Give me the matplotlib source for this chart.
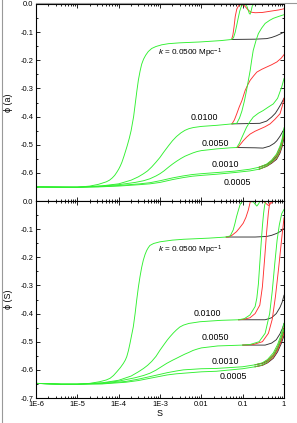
import numpy as np
import matplotlib
matplotlib.use("Agg")
import matplotlib.pyplot as plt
from matplotlib.lines import Line2D
from matplotlib.ticker import LogLocator, MultipleLocator, FixedFormatter, FixedLocator

plt.rcParams['font.family'] = ['Liberation Sans', 'DejaVu Sans']
plt.rcParams['axes.unicode_minus'] = False
plt.rcParams['mathtext.fontset'] = 'custom'
plt.rcParams['mathtext.rm'] = 'Liberation Sans'
plt.rcParams['mathtext.it'] = 'Liberation Sans:italic'

# ---- data: (S, phi) pairs ----
k_labels = ["0.0500", "0.0100", "0.0050", "0.0010", "0.0005"]

# panel (a): phi(a)
a_k0500_early = [(1e-6, -0.650), (5e-6, -0.652), (1e-5, -0.651), (2e-5, -0.647), (3.2e-5, -0.641),
                 (5e-5, -0.632), (6e-5, -0.626), (7e-5, -0.618), (8e-5, -0.609), (9e-5, -0.598),
                 (1e-4, -0.587), (1.1e-4, -0.575), (1.2e-4, -0.562), (1.35e-4, -0.540), (1.6e-4, -0.505),
                 (1.8e-4, -0.478), (2e-4, -0.450), (2.3e-4, -0.400), (2.5e-4, -0.358), (2.75e-4, -0.310),
                 (3e-4, -0.270), (3.3e-4, -0.238), (3.6e-4, -0.214), (4e-4, -0.196), (4.5e-4, -0.182),
                 (5.2e-4, -0.169), (6.3e-4, -0.158), (8e-4, -0.151), (1.1e-3, -0.145), (1.6e-3, -0.141),
                 (3e-3, -0.138), (9e-3, -0.135), (3e-2, -0.130), (5.4e-2, -0.126)]
a_k0500_green = [(5.4e-2, -0.126), (6e-2, -0.120), (6.6e-2, -0.100), (7.2e-2, -0.075), (7.8e-2, -0.050),
                 (8.5e-2, -0.025), (9.3e-2, -0.008), (0.10, -0.002), (0.11, -0.001), (0.125, -0.006),
                 (0.135, -0.020), (0.145, -0.034), (0.152, -0.036), (0.16, -0.025), (0.17, -0.008),
                 (0.18, -0.002), (0.25, -0.001), (1.0, -0.001)]
a_k0500_red = [(5.4e-2, -0.126), (5.8e-2, -0.110), (6.2e-2, -0.080), (6.6e-2, -0.045), (7.2e-2, -0.018),
               (8e-2, -0.006), (9e-2, -0.002), (0.105, -0.003), (0.12, -0.012), (0.137, -0.022),
               (0.16, -0.029), (0.2, -0.031), (0.3, -0.030), (0.5, -0.025), (0.75, -0.021), (1.0, -0.017)]
a_k0500_black = [(5.4e-2, -0.126), (0.2, -0.125), (0.38, -0.123), (0.5, -0.119), (0.65, -0.113),
                 (0.8, -0.107), (1.0, -0.100)]

a_k0100_early = [(1e-6, -0.650), (1e-5, -0.651), (4e-5, -0.646), (1e-4, -0.639), (2e-4, -0.626),
                 (3e-4, -0.614), (4e-4, -0.603), (5e-4, -0.593), (6.3e-4, -0.579), (8e-4, -0.562),
                 (1e-3, -0.545), (1.25e-3, -0.525), (1.6e-3, -0.504), (2e-3, -0.486), (2.5e-3, -0.471),
                 (3.2e-3, -0.458), (4e-3, -0.449), (5e-3, -0.443), (6.4e-3, -0.439), (1e-2, -0.435),
                 (2.4e-2, -0.431), (5.5e-2, -0.426)]
a_k0100_green = [(5.5e-2, -0.426), (7.2e-2, -0.424), (8.4e-2, -0.405), (9.6e-2, -0.380), (0.11, -0.345),
                 (0.124, -0.307), (0.138, -0.270), (0.152, -0.236), (0.165, -0.200), (0.18, -0.165),
                 (0.21, -0.130), (0.24, -0.105), (0.29, -0.085), (0.35, -0.069), (0.45, -0.058),
                 (0.55, -0.051), (0.75, -0.044), (1.0, -0.038)]
a_k0100_red = [(5.5e-2, -0.426), (6.3e-2, -0.412), (7.2e-2, -0.390), (8.3e-2, -0.365), (9.6e-2, -0.343),
               (0.115, -0.307), (0.135, -0.285), (0.152, -0.271), (0.185, -0.255), (0.22, -0.242),
               (0.29, -0.232), (0.38, -0.224), (0.5, -0.216), (0.67, -0.206), (0.85, -0.193), (1.0, -0.180)]
a_k0100_black = [(5.5e-2, -0.426), (0.26, -0.424), (0.38, -0.416), (0.5, -0.402), (0.62, -0.388),
                 (0.72, -0.373), (0.85, -0.355), (1.0, -0.335)]

a_k0050_early = [(1e-6, -0.650), (1e-5, -0.651), (3.2e-5, -0.648), (1e-4, -0.642), (2.5e-4, -0.634),
                 (4e-4, -0.628), (5.7e-4, -0.621), (8e-4, -0.611), (1e-3, -0.603), (1.25e-3, -0.593),
                 (1.6e-3, -0.580), (2e-3, -0.569), (2.5e-3, -0.559), (3.2e-3, -0.549), (4e-3, -0.541),
                 (5e-3, -0.535), (6.3e-3, -0.529), (8e-3, -0.524), (1e-2, -0.521), (2.3e-2, -0.515),
                 (5e-2, -0.511), (7.2e-2, -0.510)]
a_k0050_green = [(7.2e-2, -0.510), (8.4e-2, -0.494), (9.6e-2, -0.474), (0.11, -0.455), (0.124, -0.438),
                 (0.15, -0.418), (0.18, -0.402), (0.24, -0.388), (0.31, -0.379), (0.42, -0.366),
                 (0.55, -0.355), (0.7, -0.335), (0.88, -0.295), (1.0, -0.265)]
a_k0050_red = [(7.2e-2, -0.510), (7.8e-2, -0.508), (0.09, -0.497), (0.103, -0.486), (0.125, -0.473),
               (0.152, -0.462), (0.2, -0.452), (0.265, -0.444), (0.35, -0.436), (0.46, -0.426),
               (0.6, -0.410), (0.8, -0.390), (0.92, -0.360), (1.0, -0.335)]
a_k0050_black = [(7.2e-2, -0.510), (0.2, -0.511), (0.31, -0.512), (0.45, -0.505), (0.58, -0.495),
                 (0.67, -0.486), (0.8, -0.470), (1.0, -0.445)]

a_k0010_early = [(1e-6, -0.650), (1e-5, -0.651), (3.2e-5, -0.649), (1e-4, -0.645), (3.2e-4, -0.639),
                 (5.7e-4, -0.635), (1e-3, -0.628), (2e-3, -0.618), (3.6e-3, -0.611), (6e-3, -0.606),
                 (1e-2, -0.603), (2.3e-2, -0.599), (6.3e-2, -0.594), (0.15, -0.587), (0.25, -0.580)]
a_k0010_green = [(0.25, -0.580), (0.38, -0.569), (0.5, -0.555), (0.66, -0.533), (0.8, -0.505),
                 (0.9, -0.480), (1.0, -0.440)]
a_k0010_red = [(0.25, -0.580), (0.38, -0.570), (0.5, -0.557), (0.66, -0.537), (0.8, -0.510),
               (0.9, -0.487), (1.0, -0.452)]
a_k0010_black = [(0.25, -0.580), (0.38, -0.571), (0.5, -0.560), (0.66, -0.542), (0.8, -0.518),
                 (0.9, -0.495), (1.0, -0.462)]

a_k0005_early = [(1e-6, -0.650), (1e-5, -0.651), (3.2e-5, -0.650), (1e-4, -0.647), (3.2e-4, -0.642),
                 (5.7e-4, -0.639), (1e-3, -0.634), (2e-3, -0.624), (3.6e-3, -0.617), (6e-3, -0.612),
                 (1e-2, -0.609), (2.3e-2, -0.605), (6.3e-2, -0.599), (0.15, -0.593), (0.25, -0.587)]
a_k0005_green = [(0.25, -0.587), (0.38, -0.575), (0.5, -0.562), (0.66, -0.545), (0.8, -0.520),
                 (0.9, -0.495), (1.0, -0.455)]
a_k0005_red = [(0.25, -0.587), (0.38, -0.576), (0.5, -0.564), (0.66, -0.548), (0.8, -0.525),
               (0.9, -0.500), (1.0, -0.465)]
a_k0005_black = [(0.25, -0.587), (0.38, -0.577), (0.5, -0.566), (0.66, -0.552), (0.8, -0.530),
                 (0.9, -0.507), (1.0, -0.475)]

# panel (S): phi(S)
s_k0500_early = [(1e-6, -0.648), (4e-6, -0.651), (1e-5, -0.651), (2e-5, -0.648), (3.5e-5, -0.642),
                 (5e-5, -0.636), (6.2e-5, -0.630), (7.5e-5, -0.620), (9e-5, -0.607), (1.1e-4, -0.592),
                 (1.3e-4, -0.577), (1.45e-4, -0.565), (1.57e-4, -0.553), (1.72e-4, -0.532), (1.88e-4, -0.506),
                 (2.05e-4, -0.478), (2.26e-4, -0.447), (2.5e-4, -0.400), (2.73e-4, -0.352), (3e-4, -0.306),
                 (3.28e-4, -0.269), (3.6e-4, -0.236), (3.95e-4, -0.210), (4.35e-4, -0.190),
                 (4.76e-4, -0.176), (5.2e-4, -0.166), (5.7e-4, -0.158), (7e-4, -0.151), (1e-3, -0.145),
                 (2e-3, -0.139), (3.7e-3, -0.136), (1.5e-2, -0.132), (4e-2, -0.128)]
s_k0500_green = [(4e-2, -0.128), (5e-2, -0.124), (5.9e-2, -0.103), (6.5e-2, -0.080), (7.1e-2, -0.056),
                 (7.8e-2, -0.035), (8.6e-2, -0.014), (9.5e-2, -0.003), (0.12, -0.001), (0.18, -0.003),
                 (0.2, -0.011), (0.22, -0.018), (0.24, -0.011), (0.26, -0.002), (1.0, -0.001)]
s_k0500_red = [(4e-2, -0.128), (4.5e-2, -0.128), (5.5e-2, -0.122), (7.1e-2, -0.109), (8.5e-2, -0.095),
               (0.103, -0.079), (0.12, -0.058), (0.137, -0.032), (0.152, -0.004), (0.17, -0.001),
               (0.32, -0.002), (0.37, -0.009), (0.42, -0.016), (0.48, -0.009), (0.55, -0.001), (1.0, -0.001)]
s_k0500_black = [(4e-2, -0.128), (0.2, -0.128), (0.38, -0.126), (0.5, -0.122), (0.67, -0.115),
                 (0.82, -0.108), (1.0, -0.098)]

s_k0100_early = [(1e-6, -0.648), (4e-6, -0.651), (1e-5, -0.651), (4e-5, -0.646), (1e-4, -0.637),
                 (2e-4, -0.622), (3e-4, -0.607), (4e-4, -0.595), (5e-4, -0.584), (6.3e-4, -0.570),
                 (8e-4, -0.552), (1e-3, -0.530), (1.25e-3, -0.510), (1.5e-3, -0.494), (1.75e-3, -0.482),
                 (2.1e-3, -0.469), (2.5e-3, -0.458), (3e-3, -0.448), (3.7e-3, -0.441), (5e-3, -0.435),
                 (9.3e-3, -0.429), (3e-2, -0.424), (8e-2, -0.422)]
s_k0100_green = [(8e-2, -0.422), (0.11, -0.418), (0.15, -0.405), (0.2, -0.375), (0.22, -0.345),
                 (0.24, -0.295), (0.26, -0.220), (0.28, -0.150), (0.3, -0.090), (0.32, -0.045),
                 (0.34, -0.015), (0.36, -0.002), (1.0, -0.001)]
s_k0100_red = [(8e-2, -0.422), (0.1, -0.421), (0.15, -0.415), (0.2, -0.400), (0.26, -0.370),
               (0.3, -0.305), (0.34, -0.205), (0.38, -0.110), (0.42, -0.040), (0.45, -0.008),
               (0.48, -0.001), (1.0, -0.001)]
s_k0100_black = [(8e-2, -0.422), (0.35, -0.422), (0.5, -0.415), (0.65, -0.400), (0.8, -0.378),
                 (0.9, -0.360), (1.0, -0.335)]

s_k0050_early = [(1e-6, -0.648), (4e-6, -0.651), (1e-5, -0.651), (4e-5, -0.647), (1e-4, -0.640),
                 (2.5e-4, -0.628), (4e-4, -0.620), (5.7e-4, -0.612), (8e-4, -0.601), (1e-3, -0.592),
                 (1.45e-3, -0.577), (2e-3, -0.566), (2.5e-3, -0.559), (3.2e-3, -0.551), (4e-3, -0.544),
                 (5e-3, -0.538), (6.3e-3, -0.531), (8e-3, -0.526), (1e-2, -0.522), (2.5e-2, -0.515),
                 (0.1, -0.512)]
s_k0050_green = [(0.1, -0.512), (0.15, -0.510), (0.25, -0.500), (0.35, -0.470), (0.45, -0.400),
                 (0.52, -0.320), (0.6, -0.220), (0.68, -0.140), (0.77, -0.085), (0.88, -0.045),
                 (1.0, -0.030)]
s_k0050_red = [(0.1, -0.512), (0.18, -0.510), (0.3, -0.500), (0.42, -0.470), (0.52, -0.420),
               (0.62, -0.340), (0.74, -0.240), (0.87, -0.140), (1.0, -0.060)]
s_k0050_black = [(0.1, -0.512), (0.35, -0.512), (0.5, -0.505), (0.65, -0.493), (0.8, -0.472),
                 (0.92, -0.452), (1.0, -0.435)]

s_k0010_early = [(1e-6, -0.648), (4e-6, -0.651), (1e-5, -0.651), (4e-5, -0.649), (1.5e-4, -0.641),
                 (3e-4, -0.633), (5.7e-4, -0.624), (1e-3, -0.616), (1.5e-3, -0.610), (2.5e-3, -0.604),
                 (3.7e-3, -0.600), (1e-2, -0.596), (2.3e-2, -0.595), (0.1, -0.589), (0.2, -0.582)]
s_k0010_green = [(0.2, -0.582), (0.3, -0.575), (0.4, -0.563), (0.55, -0.540), (0.7, -0.510),
                 (0.85, -0.475), (1.0, -0.435)]
s_k0010_red = [(0.2, -0.582), (0.3, -0.576), (0.4, -0.566), (0.55, -0.546), (0.7, -0.518),
               (0.85, -0.485), (1.0, -0.450)]
s_k0010_black = [(0.2, -0.582), (0.3, -0.577), (0.4, -0.568), (0.55, -0.550), (0.7, -0.525),
                 (0.85, -0.495), (1.0, -0.462)]

s_k0005_early = [(1e-6, -0.648), (4e-6, -0.651), (1e-5, -0.651), (4e-5, -0.650), (1.5e-4, -0.644),
                 (3e-4, -0.638), (5.7e-4, -0.630), (1e-3, -0.623), (1.5e-3, -0.618), (2.5e-3, -0.614),
                 (3.7e-3, -0.612), (1e-2, -0.607), (2.3e-2, -0.605), (0.1, -0.596), (0.2, -0.589)]
s_k0005_green = [(0.2, -0.589), (0.3, -0.582), (0.4, -0.571), (0.55, -0.550), (0.7, -0.522),
                 (0.85, -0.490), (1.0, -0.455)]
s_k0005_red = [(0.2, -0.589), (0.3, -0.583), (0.4, -0.573), (0.55, -0.555), (0.7, -0.530),
               (0.85, -0.500), (1.0, -0.468)]
s_k0005_black = [(0.2, -0.589), (0.3, -0.584), (0.4, -0.575), (0.55, -0.559), (0.7, -0.536),
                 (0.85, -0.508), (1.0, -0.478)]

# label anchors (S, phi)
a_label_pos = [(9.0e-4, -0.177), (1.16e-2, -0.405), (2.2e-2, -0.495), (3.9e-2, -0.569), (7.4e-2, -0.636)]
s_label_pos = [(9.0e-4, -0.174), (1.41e-2, -0.399), (2.23e-2, -0.484), (3.9e-2, -0.571), (6.1e-2, -0.624)]

a_curves = [
    (a_k0500_early, a_k0500_black, a_k0500_red, a_k0500_green),
    (a_k0100_early, a_k0100_black, a_k0100_red, a_k0100_green),
    (a_k0050_early, a_k0050_black, a_k0050_red, a_k0050_green),
    (a_k0010_early, a_k0010_black, a_k0010_red, a_k0010_green),
    (a_k0005_early, a_k0005_black, a_k0005_red, a_k0005_green),
]
s_curves = [
    (s_k0500_early, s_k0500_black, s_k0500_red, s_k0500_green),
    (s_k0100_early, s_k0100_black, s_k0100_red, s_k0100_green),
    (s_k0050_early, s_k0050_black, s_k0050_red, s_k0050_green),
    (s_k0010_early, s_k0010_black, s_k0010_red, s_k0010_green),
    (s_k0005_early, s_k0005_black, s_k0005_red, s_k0005_green),
]

BLACK, RED, GREEN = '#303030', '#ff3030', '#30f030'
tick_fs = 5.4
text_fs = 6.4


def style_axes(ax, bottom_labels):
    ax.set_xscale('log')
    ax.set_xlim(1e-6, 1)
    ax.set_ylim(-0.7, 0.0)
    ax.xaxis.set_major_locator(FixedLocator([1e-6, 1e-5, 1e-4, 1e-3, 1e-2, 1e-1, 1]))
    ax.xaxis.set_minor_locator(LogLocator(base=10, subs=np.arange(2, 10), numticks=20))
    ax.yaxis.set_major_locator(FixedLocator([0, -0.1, -0.2, -0.3, -0.4, -0.5, -0.6, -0.7]))
    ax.yaxis.set_minor_locator(MultipleLocator(0.05))
    ax.tick_params(which='both', direction='in', top=True, right=True, width=0.6,
                   labelsize=tick_fs, pad=2)
    ax.tick_params(which='major', length=3.0)
    ax.tick_params(which='minor', length=1.6)
    for sp in ax.spines.values():
        sp.set_linewidth(0.8)
    ylabels = ["0.0", "-0.1", "-0.2", "-0.3", "-0.4", "-0.5", "-0.6", "-0.7"]
    if bottom_labels:
        ax.xaxis.set_major_formatter(FixedFormatter(["1E-6", "1E-5", "1E-4", "1E-3", "0.01", "0.1", "1"]))
    else:
        ax.tick_params(labelbottom=False)
        ylabels[-1] = ""
    ax.yaxis.set_major_formatter(FixedFormatter(ylabels))


def draw_panel(ax, curves, label_pos):
    for early, black, red, green in curves:
        # the three runs share the early track; it is drawn once, in green
        for late, col in ((black, BLACK), (red, RED)):
            pts = np.array(late)
            ax.plot(pts[:, 0], pts[:, 1], color=col, lw=0.65)
        pts = np.array(early + green[1:])
        ax.plot(pts[:, 0], pts[:, 1], color=GREEN, lw=0.65)
    for i, (lab, (x, y)) in enumerate(zip(k_labels, label_pos)):
        if i == 0:
            ax.text(x, y, r"$k$ = " + lab + r" Mpc$^{-1}$", fontsize=5.9, ha='left', va='center')
        else:
            ax.text(x, y, lab, fontsize=text_fs, ha='center', va='center')


fig = plt.figure(figsize=(2.97, 4.23), dpi=100)
ax1 = fig.add_axes([36 / 297, 1 - 201 / 423, 248 / 297, 197 / 423])
ax2 = fig.add_axes([36 / 297, 1 - 398 / 423, 248 / 297, 197 / 423])

draw_panel(ax1, a_curves, a_label_pos)
draw_panel(ax2, s_curves, s_label_pos)
style_axes(ax1, False)
style_axes(ax2, True)

ax1.set_ylabel("ϕ (a)", fontsize=text_fs, labelpad=5)
ax2.set_ylabel("ϕ (S)", fontsize=text_fs, labelpad=5)
ax2.set_xlabel("S", fontsize=text_fs, labelpad=1)

# thin grey frame pieces of the original export
fig.add_artist(Line2D([2 / 297, 2 / 297], [0, 1], color='0.6', lw=0.8))
fig.add_artist(Line2D([36 / 297, 1], [1 - 3 / 423, 1 - 3 / 423], color='0.6', lw=0.8))

fig.savefig("out.png", dpi=100)
